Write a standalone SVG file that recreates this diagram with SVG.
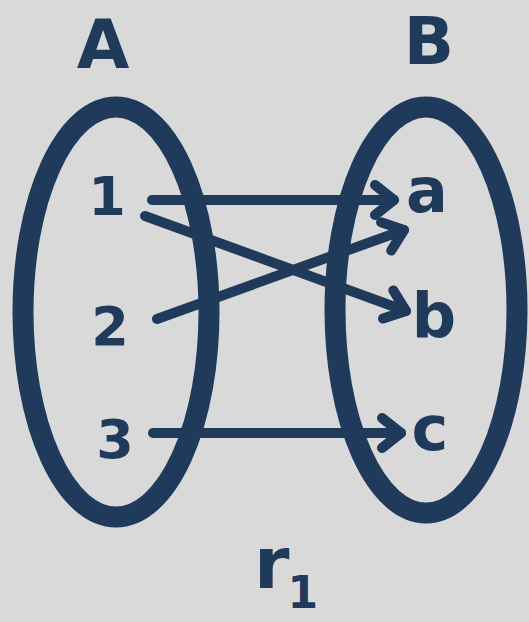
<svg xmlns="http://www.w3.org/2000/svg" width="529" height="622" viewBox="0 0 529 622">
  <defs>
    <style>
      .set { fill: none; stroke: #1f3a5b; stroke-width: 21; }
      .lbl { fill: #1f3a5b; font-family: "DejaVu Sans", "Liberation Sans", sans-serif; font-weight: bold; text-anchor: middle; }
      .el { font-size: 54px; }
      .let { font-size: 62px; }
      .conn { fill: none; stroke: #1f3a5b; stroke-width: 10; stroke-linecap: round; marker-end: url(#arrow); }
    </style>
    <marker id="arrow" markerUnits="userSpaceOnUse" markerWidth="40" markerHeight="40" viewBox="-30 -20 40 40" refX="0" refY="0" orient="auto" overflow="visible">
      <path d="M -19 -15 L 0 0 L -19 15" fill="none" stroke="#1f3a5b" stroke-width="10" stroke-linecap="round" stroke-linejoin="round"/>
    </marker>
  </defs>
  <rect width="529" height="622" fill="#d9d9d9"/>

  <g id="setA">
    <ellipse class="set" cx="116" cy="312" rx="93" ry="205"/>
    <text class="lbl" x="103" y="68" font-size="68">A</text>
  </g>
  <g id="setB">
    <ellipse class="set" cx="426" cy="310" rx="91" ry="203"/>
    <text class="lbl" x="429" y="64" font-size="66">B</text>
  </g>

  <g id="connectors">
    <line class="conn" x1="152" y1="200" x2="394" y2="200"/>
    <line class="conn" x1="145" y1="216" x2="406" y2="311"/>
    <line class="conn" x1="157" y1="319" x2="404" y2="230"/>
    <line class="conn" x1="153" y1="433" x2="401" y2="433"/>
  </g>

  <g id="node-1"><text class="lbl el" x="107" y="215">1</text></g>
  <g id="node-2"><text class="lbl el" x="110" y="345">2</text></g>
  <g id="node-3"><text class="lbl el" x="115" y="458">3</text></g>
  <g id="node-a"><text class="lbl let" x="427" y="212">a</text></g>
  <g id="node-b"><text class="lbl let" x="434" y="337">b</text></g>
  <g id="node-c"><text class="lbl let" x="430" y="450">c</text></g>

  <g id="caption">
    <text class="lbl" x="254" y="588" font-size="72" style="text-anchor:start">r<tspan font-size="44" dy="20" dx="-2">1</tspan></text>
  </g>
</svg>
